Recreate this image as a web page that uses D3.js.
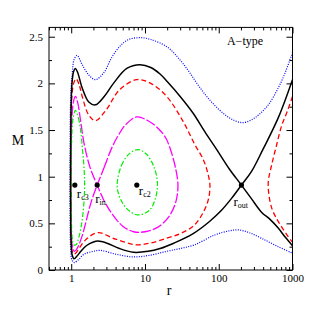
<!DOCTYPE html>
<html><head><meta charset="utf-8">
<script src="https://cdn.jsdelivr.net/npm/d3@7"></script>
<style>html,body{margin:0;padding:0;background:#fff}</style>
</head><body>
<svg id="c" width="319" height="319"></svg>
<script>
// ---- data (r, M) ----
const blackCurve = [[1000,0.26],[800,0.35],[640,0.45],[500,0.54],[380,0.62],[280,0.76],[203,0.91],[140,1.08],[94,1.29],[65,1.48],[45,1.68],[30,1.86],[20,2.02],[16,2.10],[12,2.17],[8.56,2.20],[5.67,2.16],[3.74,2.0],[2.8,1.86],[2.13,1.77],[1.73,1.80],[1.41,1.95],[1.22,2.12],[1.14,2.16],[1.08,2.13],[1.03,2.02],[1.0,1.8],[0.985,1.4],[0.98,0.9],[0.985,0.5],[1.0,0.28],[1.03,0.16],[1.09,0.12],[1.2,0.15],[1.35,0.2],[1.6,0.26],[2.0,0.30],[2.3,0.31],[3.0,0.29],[4.5,0.23],[7,0.19],[11,0.2],[16,0.23],[25,0.29],[45,0.39],[75,0.52],[109,0.64],[150,0.77],[203,0.91],[280,1.06],[396,1.29],[640,1.63],[1000,2.04]];
const redLoop = [[1.17,2.05],[1.3,1.97],[1.41,1.86],[1.73,1.66],[2.13,1.60],[3,1.72],[4.5,1.93],[7.7,2.04],[12,2.0],[19.7,1.86],[33,1.59],[47,1.35],[62,1.18],[72,1.02],[76,0.9],[72,0.75],[60,0.6],[45,0.47],[30,0.39],[19.7,0.34],[12,0.29],[7.7,0.27],[4,0.33],[2.3,0.40],[1.6,0.33],[1.3,0.24],[1.15,0.18],[1.08,0.17],[1.03,0.2],[1.0,0.35],[0.99,0.9],[0.995,1.5],[1.02,1.85],[1.08,2.0]];
const redRight = [[1000,1.86],[850,1.7],[715,1.55],[600,1.32],[520,1.12],[470,0.95],[480,0.8],[530,0.65],[620,0.54],[715,0.46],[850,0.37],[1000,0.30]];
const blueCurve = [[1000,2.33],[800,2.12],[640,1.95],[480,1.78],[380,1.69],[280,1.61],[204,1.58],[134,1.64],[80,1.80],[55,1.96],[40,2.12],[30,2.25],[20,2.39],[12,2.47],[8.56,2.49],[6,2.47],[4.6,2.40],[3.5,2.27],[2.8,2.12],[2.13,2.04],[1.73,2.09],[1.41,2.20],[1.2,2.30],[1.1,2.26],[1.03,2.1],[0.98,1.8],[0.965,1.2],[0.965,0.6],[0.98,0.25],[1.02,0.11],[1.1,0.08],[1.25,0.11],[1.5,0.17],[2.0,0.20],[2.5,0.21],[4,0.17],[7,0.14],[12,0.16],[19.7,0.20],[30,0.23],[47,0.27],[88,0.375],[140,0.42],[185,0.43],[260,0.40],[380,0.34],[640,0.25],[1000,0.18]];
const magentaLoop = [[2.25,0.91],[2.8,1.1],[3.6,1.32],[4.4,1.45],[5.5,1.56],[7.7,1.64],[11,1.6],[15,1.52],[19,1.42],[22,1.3],[25.5,1.12],[28,0.91],[26,0.72],[21,0.57],[15,0.46],[10,0.41],[7,0.41],[5,0.47],[3.6,0.6],[2.8,0.74],[2.25,0.91],[1.8,1.1],[1.5,1.35],[1.34,1.6],[1.22,1.8],[1.14,1.86],[1.07,1.8],[1.02,1.6],[0.995,1.2],[0.99,0.7],[1.0,0.4],[1.04,0.25],[1.1,0.2],[1.2,0.23],[1.4,0.36],[1.6,0.53],[1.85,0.72]];
const greenLeft = [[1.14,1.71],[1.25,1.63],[1.34,1.5],[1.42,1.3],[1.49,1.1],[1.52,0.9],[1.48,0.7],[1.4,0.52],[1.28,0.36],[1.16,0.27],[1.08,0.27],[1.03,0.35],[1.005,0.6],[1.0,1.0],[1.01,1.35],[1.05,1.6]];
const greenRight = [[4.2,0.91],[4.8,1.12],[6.2,1.25],[8.1,1.29],[10.5,1.24],[13,1.12],[14.7,0.95],[14,0.78],[11.5,0.64],[8,0.59],[5.8,0.65],[4.6,0.77]];
const critNames = ["c3","in","c2","out"];
const critR = [1.12, 2.25, 7.75, 203];
const critM = [0.91, 0.91, 0.91, 0.91];
const xMajor = [1, 10, 100, 1000];
const xMinor = [0.5,0.6,0.7,0.8,0.9,2,3,4,5,6,7,8,9,20,30,40,50,60,70,80,90,200,300,400,500,600,700,800,900];
const yMajor = [0, 0.5, 1, 1.5, 2, 2.5];
const yMinor = [0.25, 0.75, 1.25, 1.75, 2.25];
const title = "A\u2212type";

// ---- layout ----
const L = 49, R = 292.5, T = 27.4, B = 270;
const x = d3.scaleLog().domain([0.5, 1000]).range([L, R]);
const y = d3.scaleLinear().domain([0, 2.6]).range([B, T]);
const svg = d3.select("#c");
const font = "'Liberation Serif', 'DejaVu Serif', serif";

svg.append("defs").append("clipPath").attr("id","clip")
  .append("rect").attr("x",L).attr("y",T).attr("width",R-L).attr("height",B-T);

const g = svg.append("g").attr("clip-path","url(#clip)");
const open = d3.line().x(d=>x(d[0])).y(d=>y(d[1])).curve(d3.curveCatmullRom.alpha(0.5));
const closed = d3.line().x(d=>x(d[0])).y(d=>y(d[1])).curve(d3.curveCatmullRomClosed.alpha(0.5));

function draw(data, gen, color, w, dash){
  g.append("path").attr("d", gen(data)).attr("fill","none").attr("stroke",color)
   .attr("stroke-width",w).attr("stroke-dasharray",dash||null);
}
draw(blueCurve, open, "#0000ff", 1.2, "1,1.4");
draw(redLoop, closed, "#ff0000", 1.3, "5,3");
draw(redRight, open, "#ff0000", 1.3, "5,3");
draw(magentaLoop, closed, "#ff00ff", 1.3, "10,2");
draw(greenLeft, closed, "#00ee00", 1.2, "5,2,1.5,2");
draw(greenRight, closed, "#00ee00", 1.2, "5,2,1.5,2");
draw(blackCurve, open, "#000000", 1.5);

// axes
function styleAxis(sel){ sel.select(".domain").remove(); sel.selectAll("line").attr("stroke","#000"); sel.selectAll("text").attr("font-family",font).attr("font-size",11).attr("fill","#000"); }
svg.append("g").attr("transform",`translate(0,${B})`).call(d3.axisBottom(x).tickValues(xMajor).tickSize(-6).tickPadding(4).tickFormat(d3.format("d"))).call(styleAxis);
svg.append("g").attr("transform",`translate(0,${B})`).call(d3.axisBottom(x).tickValues(xMinor).tickSize(-3).tickFormat("")).call(styleAxis);
svg.append("g").attr("transform",`translate(0,${T})`).call(d3.axisTop(x).tickValues(xMajor).tickSize(-6).tickFormat("")).call(styleAxis);
svg.append("g").attr("transform",`translate(0,${T})`).call(d3.axisTop(x).tickValues(xMinor).tickSize(-3).tickFormat("")).call(styleAxis);
svg.append("g").attr("transform",`translate(${L},0)`).call(d3.axisLeft(y).tickValues(yMajor).tickSize(-6).tickPadding(6).tickFormat(d=>d3.format("")(d))).call(styleAxis);
svg.append("g").attr("transform",`translate(${L},0)`).call(d3.axisLeft(y).tickValues(yMinor).tickSize(-3).tickFormat("")).call(styleAxis);
svg.append("g").attr("transform",`translate(${R},0)`).call(d3.axisRight(y).tickValues(yMajor).tickSize(-6).tickFormat("")).call(styleAxis);
svg.append("g").attr("transform",`translate(${R},0)`).call(d3.axisRight(y).tickValues(yMinor).tickSize(-3).tickFormat("")).call(styleAxis);

svg.append("rect").attr("x",L).attr("y",T).attr("width",R-L).attr("height",B-T)
  .attr("fill","none").attr("stroke","#000").attr("stroke-width",1);

// axis titles
svg.append("text").attr("x",169).attr("y",295).attr("text-anchor","middle")
  .attr("font-family",font).attr("font-size",14).text("r");
svg.append("text").attr("x",18).attr("y",145).attr("text-anchor","middle")
  .attr("font-family",font).attr("font-size",14).text("M");
svg.append("text").attr("x",245).attr("y",45).attr("text-anchor","middle")
  .attr("font-family",font).attr("font-size",12).text(title);

// critical points
const labelOff = [[2,13],[-2,18],[2,10],[-8,21]];
critR.forEach((r,i)=>{
  const cx = x(r), cy = y(critM[i]);
  svg.append("circle").attr("cx",cx).attr("cy",cy).attr("r",2.6).attr("fill","#000");
  const t = svg.append("text").attr("x",cx+labelOff[i][0]).attr("y",cy+labelOff[i][1])
    .attr("font-family",font).attr("font-size",13);
  t.append("tspan").text("r");
  t.append("tspan").attr("font-size",8).attr("dy",2).text(critNames[i]);
});
</script>
</body></html>
